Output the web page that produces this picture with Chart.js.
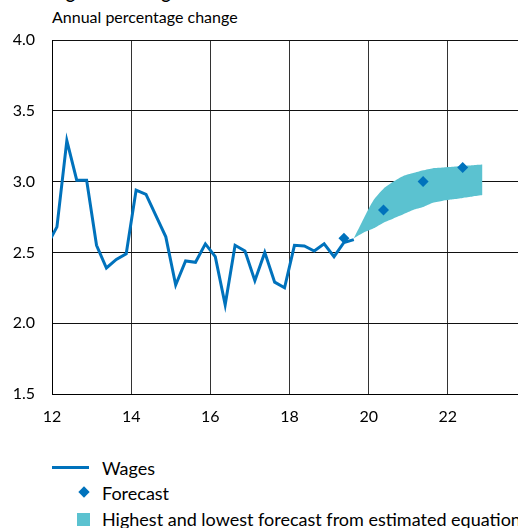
<!DOCTYPE html>
<html>
<head>
<meta charset="utf-8">
<script src="https://cdn.jsdelivr.net/npm/chart.js@4/dist/chart.umd.min.js"></script>
<style>
  html, body { margin: 0; padding: 0; background: #fff; overflow: hidden; width: 518px; height: 528px; }
  body { position: relative; font-family: Lato, "Liberation Sans", sans-serif; color: #000; }
  #wrap { position: absolute; left: 0; top: 0; width: 540px; height: 432px; }
  #title { position: absolute; left: 52px; top: -17px; font-weight: bold; font-size: 17px; line-height: 20px; white-space: nowrap; }
  #subtitle { position: absolute; left: 52px; top: 7px; font-size: 16px; line-height: 19px; white-space: nowrap; }
  .leg { position: absolute; left: 0; font-size: 18px; white-space: nowrap; height: 20px; line-height: 20px; }
  .leg span.t { position: absolute; left: 102px; top: 0; }
  .sw-line { position: absolute; left: 52px; top: 8px; width: 37px; height: 3px; background: #0072BC; }
  .sw-dia { position: absolute; left: 80px; top: 5px; width: 8px; height: 8px; background: #0072BC; transform: rotate(45deg); }
  .sw-box { position: absolute; left: 77px; top: 4px; width: 13px; height: 13px; background: #5BC2D0; }
</style>
</head>
<body>
<div id="title">Figure 4.3: Wages</div>
<div id="subtitle">Annual percentage change</div>
<div id="wrap"><canvas id="c" width="540" height="432"></canvas></div>
<div class="leg" style="top:458px"><div class="sw-line"></div><span class="t">Wages</span></div>
<div class="leg" style="top:483px"><div class="sw-dia"></div><span class="t">Forecast</span></div>
<div class="leg" style="top:509px"><div class="sw-box"></div><span class="t">Highest and lowest forecast from estimated equations</span></div>
<script>
// ---- data ----
const wageYears = [11.875, 12.125, 12.375, 12.625, 12.875, 13.125, 13.375, 13.625, 13.875,
  14.125, 14.375, 14.625, 14.875, 15.125, 15.375, 15.625, 15.875,
  16.125, 16.375, 16.625, 16.875, 17.125, 17.375, 17.625, 17.875,
  18.125, 18.375, 18.625, 18.875, 19.125, 19.375, 19.625];
const wages = [2.55, 2.68, 3.29, 3.01, 3.01, 2.55, 2.39, 2.45, 2.49,
  2.94, 2.91, 2.76, 2.61, 2.27, 2.44, 2.43, 2.56,
  2.47, 2.13, 2.55, 2.51, 2.30, 2.50, 2.29, 2.25,
  2.55, 2.545, 2.51, 2.56, 2.47, 2.57, 2.59];

const forecastYears = [19.375, 20.375, 21.375, 22.375];
const forecast = [2.6, 2.8, 3.0, 3.1];

const bandYears = [19.625, 19.875, 20.125, 20.375, 20.625, 20.875, 21.125,
  21.375, 21.625, 21.875, 22.125, 22.375, 22.625, 22.875];
const bandHigh = [2.60, 2.74, 2.87, 2.95, 3.00, 3.04, 3.06,
  3.08, 3.095, 3.10, 3.105, 3.11, 3.115, 3.12];
const bandLow = [2.60, 2.64, 2.67, 2.71, 2.74, 2.77, 2.80,
  2.82, 2.85, 2.865, 2.875, 2.885, 2.895, 2.905];

const xTickLabels = ['12', '14', '16', '18', '20', '22'];
const yTickLabels = ['1.5', '2.0', '2.5', '3.0', '3.5', '4.0'];

const BLUE = '#0072BC';
const TEAL = '#5BC2D0';
const pts = (xs, ys) => xs.map((x, i) => ({ x: x, y: ys[i] }));

new Chart(document.getElementById('c'), {
  type: 'line',
  data: {
    datasets: [
      { label: 'Wages', data: pts(wageYears, wages), borderColor: BLUE, borderWidth: 3,
        pointRadius: 0, fill: false, tension: 0 },
      { label: 'Forecast', data: pts(forecastYears, forecast), showLine: false,
        pointStyle: 'rectRot', pointRadius: 5.5, pointBackgroundColor: BLUE, pointBorderColor: BLUE,
        pointBorderWidth: 0 },
      { label: 'High', data: pts(bandYears, bandHigh), borderWidth: 0, borderColor: 'rgba(0,0,0,0)',
        pointRadius: 0, fill: false, tension: 0.2 },
      { label: 'Highest and lowest forecast from estimated equations', data: pts(bandYears, bandLow),
        borderWidth: 0, borderColor: 'rgba(0,0,0,0)', backgroundColor: TEAL,
        pointRadius: 0, fill: '-1', tension: 0.2 }
    ]
  },
  options: {
    responsive: false,
    animation: false,
    layout: { padding: { top: 40, right: 13, left: 0, bottom: 0 } },
    plugins: { legend: { display: false }, tooltip: { enabled: false }, title: { display: false } },
    scales: {
      x: {
        type: 'linear', min: 12, max: 24,
        ticks: {
          stepSize: 2, padding: 13, color: '#000', maxRotation: 0, autoSkip: false,
          font: { family: 'Lato, "Liberation Sans", sans-serif', size: 16 },
          callback: (v) => xTickLabels.includes(String(v)) ? String(v) : ''
        },
        grid: { color: '#333', lineWidth: 1, drawTicks: false },
        border: { color: '#000', width: 1 },
        afterFit: (s) => { s.height = 432 - 394; }
      },
      y: {
        min: 1.5, max: 4.0,
        ticks: {
          stepSize: 0.5, padding: 17, color: '#000',
          font: { family: 'Lato, "Liberation Sans", sans-serif', size: 16 },
          callback: (v) => { const s = Number(v).toFixed(1); return yTickLabels.includes(s) ? s : ''; }
        },
        grid: { color: '#111', lineWidth: 1, drawTicks: false },
        border: { color: '#000', width: 1 },
        afterFit: (s) => { s.width = 52; }
      }
    }
  }
});
</script>
</body>
</html>
